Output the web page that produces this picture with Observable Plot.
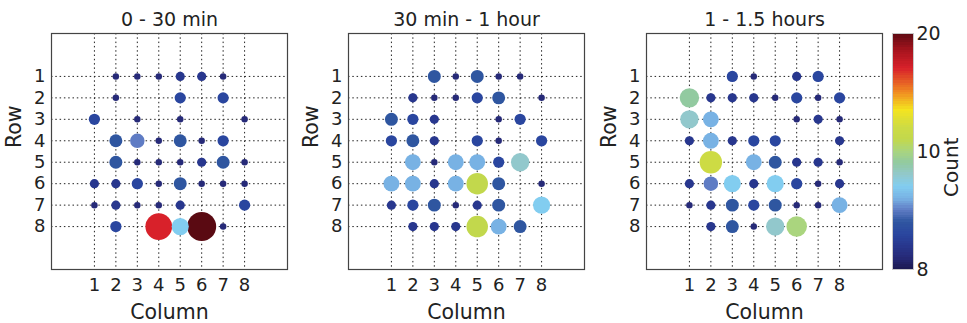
<!DOCTYPE html>
<html><head><meta charset="utf-8">
<script src="https://cdn.jsdelivr.net/npm/d3@7"></script>
<script src="https://cdn.jsdelivr.net/npm/@observablehq/plot@0.6"></script>
<style>
body{margin:0;background:#fff;}
#chart{position:relative;width:967px;height:323px;}
#chart svg{position:absolute;top:0;}
</style></head><body><div id="chart"></div>
<script>
const columns = [1, 2, 3, 4, 5, 6, 7, 8];
const rows = [1, 2, 3, 4, 5, 6, 7, 8];
const panelTitles = ["0 - 30 min", "30 min - 1 hour", "1 - 1.5 hours"];

// counts[row][column], 0 = no dot
const counts0to30 = [
  [0, 1, 1, 1, 2, 2, 1, 0],
  [0, 1, 0, 0, 3, 0, 3, 0],
  [3, 0, 1, 0, 1, 0, 0, 1],
  [0, 4, 5, 1, 4, 1, 3, 0],
  [0, 4, 1, 1, 1, 2, 4, 1],
  [2, 2, 3, 1, 4, 1, 1, 1],
  [1, 2, 1, 1, 2, 0, 0, 3],
  [0, 3, 0, 17, 7, 20, 1, 0]
];
const counts30to60 = [
  [0, 0, 4, 1, 4, 1, 1, 0],
  [0, 2, 1, 1, 3, 4, 0, 1],
  [4, 3, 2, 0, 0, 1, 3, 0],
  [3, 4, 2, 0, 3, 1, 0, 3],
  [0, 6, 1, 6, 6, 3, 8, 0],
  [6, 6, 2, 6, 11, 4, 0, 1],
  [2, 3, 4, 1, 2, 4, 0, 7],
  [0, 2, 2, 2, 11, 6, 4, 0]
];
const counts60to90 = [
  [0, 0, 3, 1, 0, 2, 3, 0],
  [9, 2, 2, 2, 1, 3, 1, 3],
  [8, 6, 0, 0, 0, 1, 2, 1],
  [2, 6, 2, 3, 3, 0, 0, 2],
  [0, 12, 0, 6, 4, 2, 2, 1],
  [2, 5, 7, 2, 7, 3, 1, 2],
  [1, 2, 4, 3, 4, 1, 1, 6],
  [0, 2, 4, 1, 8, 10, 0, 0]
];

const colorStops = [0, 1, 2, 3, 4, 5, 6, 7, 8, 9, 10, 11, 12, 13.5, 15, 17, 18.5, 20];
const colorRamp = ["#1c1950", "#262a78", "#28378e", "#2a469f", "#2f56a0", "#5f7cc4", "#78b2e4", "#82cdf0",
  "#92c8cc", "#92caa0", "#aad57e", "#c2d84c", "#cddb44", "#f4e41f", "#f08a22", "#d8212a", "#a8141e", "#5a0a12"];
const colorbarTicks = [0, 10, 20];
const colorbarTickLabels = ["8", "10", "20"];

const font = "DejaVu Sans, sans-serif";
const colorOpts = {type: "linear", domain: colorStops, range: colorRamp, interpolate: "rgb"};
const rOpts = {type: "sqrt", domain: [0, 20], range: [0, 14.5]};
const gridStyle = {stroke: "#222", strokeDasharray: "1.5,2.8", strokeWidth: 1};

const chart = document.getElementById("chart");

function panel(title, matrix, left) {
  const data = [];
  matrix.forEach((r, i) => r.forEach((n, j) => {
    if (n > 0) data.push({row: rows[i], col: columns[j], n});
  }));
  const svg = Plot.plot({
    width: 295, height: 323,
    marginLeft: 51, marginRight: 8, marginTop: 33, marginBottom: 54,
    style: {fontFamily: font, fontSize: "18px", color: "#222", background: "transparent", overflow: "visible"},
    x: {domain: [-1, 10], ticks: columns, tickSize: 0, tickPadding: 9, label: null},
    y: {domain: [-1, 10], reverse: true, ticks: rows, tickSize: 0, tickPadding: 6, label: null},
    r: rOpts,
    color: colorOpts,
    marks: [
      Plot.ruleX(columns, gridStyle),
      Plot.ruleY(rows, gridStyle),
      Plot.dot(data, {x: "col", y: "row", r: "n", fill: "n", stroke: null}),
      Plot.frame({stroke: "#444", strokeWidth: 1.2}),
      Plot.text([title], {text: d => d, frameAnchor: "top", dy: -14, fontSize: 19, lineAnchor: "middle", fill: "#222"}),
      Plot.text(["Column"], {text: d => d, frameAnchor: "bottom", dy: 43, fontSize: 20.5, lineAnchor: "middle", fill: "#222"}),
      Plot.text(["Row"], {text: d => d, frameAnchor: "left", dx: -37, dy: -3.5, rotate: -90, fontSize: 20.5, lineAnchor: "middle", fill: "#222"})
    ]
  });
  svg.style.left = left + "px";
  chart.appendChild(svg);
}

panel(panelTitles[0], counts0to30, 0);
panel(panelTitles[1], counts30to60, 297);
panel(panelTitles[2], counts60to90, 595);

const step = 0.2;
const gradientSteps = d3.range(0, 20, step);
const cb = Plot.plot({
  width: 82, height: 323,
  marginLeft: 7, marginRight: 54, marginTop: 33, marginBottom: 54,
  style: {fontFamily: font, fontSize: "19px", color: "#222", background: "transparent", overflow: "visible"},
  x: {domain: [0, 1], axis: null},
  y: {domain: [0, 20], axis: "right", ticks: colorbarTicks,
      tickFormat: d => colorbarTickLabels[colorbarTicks.indexOf(d)],
      tickSize: 0, tickPadding: 3, label: null},
  color: colorOpts,
  marks: [
    Plot.rect(gradientSteps, {x1: 0, x2: 1, y1: d => d, y2: d => d + step + 0.02, fill: d => d + step / 2, shapeRendering: "crispEdges"}),
    Plot.frame({stroke: "#c8c8c8", strokeWidth: 1}),
    Plot.text(["Count"], {text: d => d, frameAnchor: "right", dx: 38.5, dy: -14, rotate: -90, fontSize: 20, lineAnchor: "middle", fill: "#222"})
  ]
});
cb.style.left = "885px";
chart.appendChild(cb);
</script></body></html>
